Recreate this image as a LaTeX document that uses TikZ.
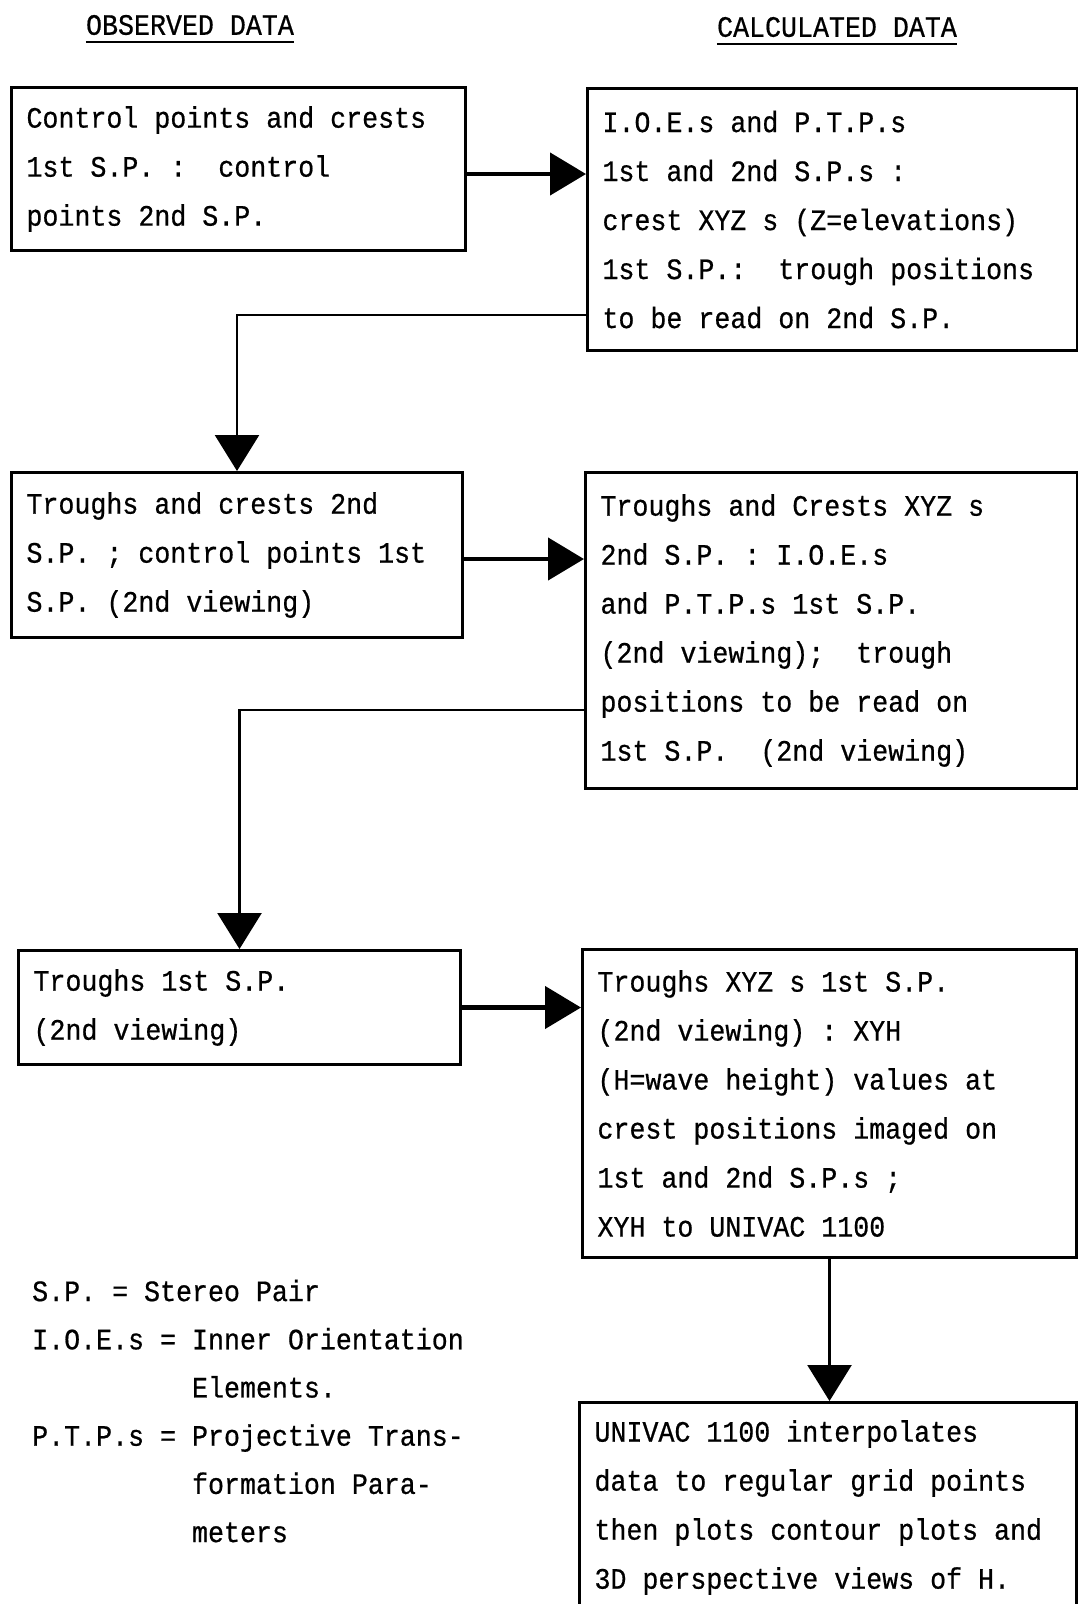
\documentclass[tikz,border=0pt]{standalone}
\usepackage{fontspec}
\setmonofont[FakeStretch=0.9, FakeBold=0.6]{Liberation Mono}
\usetikzlibrary{arrows.meta}
\tikzset{
  box/.style={draw, line width=3pt, anchor=north west, inner xsep=15pt, inner ysep=0pt,
    align=flush left, font=\ttfamily\frenchspacing\fontsize{29.6pt}{49pt}\selectfont},
  boxsize/.style 2 args={minimum width=#1, text width=#1-30pt, minimum height=#2},
  heading/.style={inner sep=0pt, font=\ttfamily\fontsize{29.6pt}{30pt}\selectfont},
  legend/.style={inner sep=0pt, align=left, font=\ttfamily\frenchspacing\fontsize{29.6pt}{48.2pt}\selectfont},
  flow/.style={line width=4.5pt, -{Triangle[length=36pt,width=42pt]}},
  link/.style={line width=2.5pt, -{Triangle[length=36pt,width=44pt]}}
}

\begin{document}
\begin{tikzpicture}[x=1pt, y=-1pt]
\useasboundingbox (0,0) rectangle (1078,1604);
% column headings
\node[heading] (hobs) at (190,25) {OBSERVED DATA};
\node[heading] (hcalc) at (837,27) {CALCULATED DATA};
\draw[line width=2pt] ([yshift=-7pt]hobs.south west) -- ([yshift=-7pt]hobs.south east);
\draw[line width=2pt] ([yshift=-7pt]hcalc.south west) -- ([yshift=-7pt]hcalc.south east);

% observed column
\node[box, boxsize={454pt}{163pt}] (obs1) at (10,86)
  {Control points and crests\\1st S.P. :~~control\\points 2nd S.P.};
\node[box, boxsize={451pt}{165pt}] (obs2) at (10,471)
  {Troughs and crests 2nd\\S.P. ; control points 1st\\S.P. (2nd viewing)};
\node[box, boxsize={442pt}{114pt}] (obs3) at (17,949)
  {Troughs 1st S.P.\\(2nd viewing)};

% calculated column
\node[box, boxsize={490pt}{262pt}] (calc1) at (586,87)
  {I.O.E.s and P.T.P.s\\1st and 2nd S.P.s :\\crest XYZ s (Z=elevations)\\1st S.P.:~~trough positions\\to be read on 2nd S.P.};
\node[box, boxsize={492pt}{316pt}] (calc2) at (584,471)
  {Troughs and Crests XYZ s\\2nd S.P. : I.O.E.s\\and P.T.P.s 1st S.P.\\(2nd viewing);~~trough\\positions to be read on\\1st S.P.~~(2nd viewing)};
\node[box, boxsize={494pt}{308pt}] (calc3) at (581,948)
  {Troughs XYZ s 1st S.P.\\(2nd viewing) : XYH\\(H=wave height) values at\\crest positions imaged on\\1st and 2nd S.P.s ;\\XYH to UNIVAC 1100};
\node[box, boxsize={497pt}{210pt}] (calc4) at (578,1401)
  {UNIVAC 1100 interpolates\\data to regular grid points\\then plots contour plots and\\3D perspective views of H.};

% abbreviations
\node[legend, anchor=west] (key) at (32,1411)
  {S.P. = Stereo Pair\\I.O.E.s = Inner Orientation\\\phantom{I.O.E.s = }Elements.\\P.T.P.s = Projective Trans-\\\phantom{P.T.P.s = }formation Para-\\\phantom{P.T.P.s = }meters};

% arrows
\draw[flow] ([yshift=-5pt]obs1.east) -- ([yshift=-5pt]obs1.east -| calc1.west);
\draw[flow] ([yshift=-4pt]obs2.east) -- ([yshift=-4pt]obs2.east -| calc2.west);
\draw[flow] (obs3.east) -- (obs3.east -| calc3.west);
\draw[link] ([yshift=37pt]calc1.south west) -| (obs2.north);
\draw[link] ([yshift=80pt]calc2.south west) -| (obs3.north);
\draw[link] (calc3.south) -- (calc3.south |- calc4.north);
\end{tikzpicture}
\end{document}
